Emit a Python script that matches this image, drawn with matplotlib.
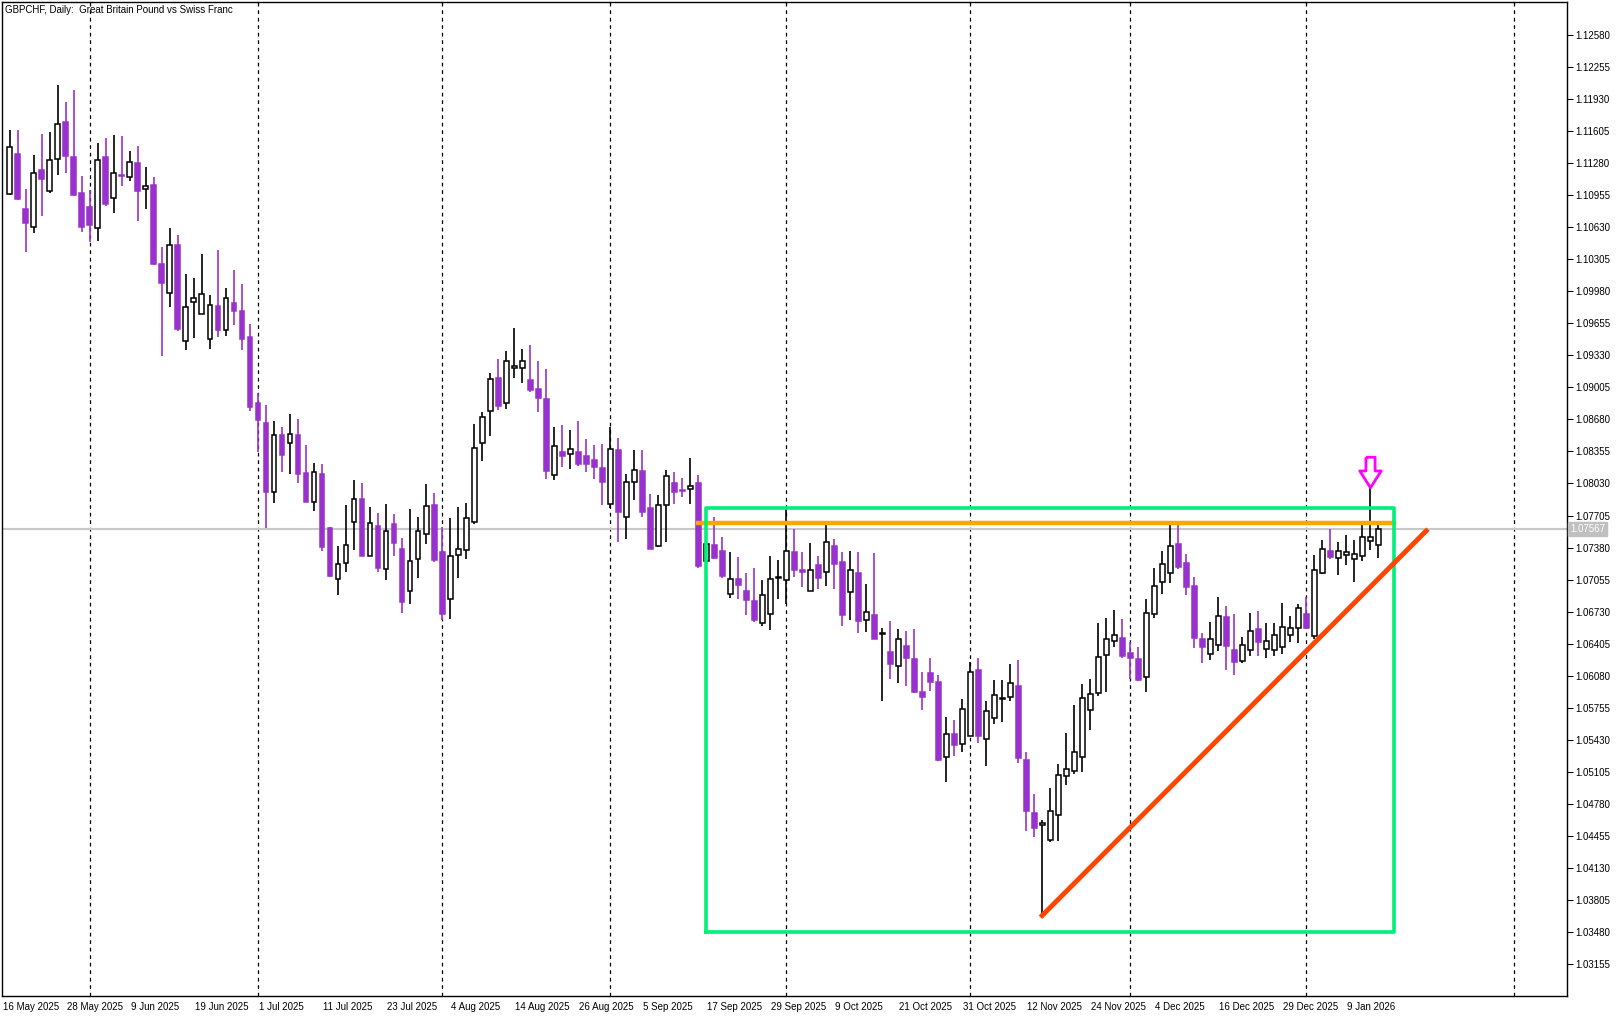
import matplotlib
matplotlib.use("Agg")
import matplotlib.pyplot as plt
from matplotlib.path import Path
import numpy as np

plt.rcParams["font.family"] = ["Liberation Sans", "DejaVu Sans"]

# GBPCHF daily candles
opens = [1.1096, 1.1137, 1.1081, 1.1063, 1.1121, 1.1100, 1.1132, 1.1169, 1.1134, 1.1097,
         1.1083, 1.1062, 1.1134, 1.1092, 1.1116, 1.1114, 1.1128, 1.1102, 1.1106, 1.1026,
         1.0996, 1.1045, 1.0947, 1.0987, 1.0975, 1.0949, 1.0983, 1.0959, 1.0986, 1.0978,
         1.0952, 1.0885, 1.0864, 1.0794, 1.0852, 1.0844, 1.0852, 1.0814, 1.0784, 1.0813,
         1.0758, 1.0706, 1.0722, 1.0764, 1.0787, 1.0730, 1.0760, 1.0716, 1.0762, 1.0737,
         1.0694, 1.0726, 1.0752, 1.0781, 1.0734, 1.0686, 1.0731, 1.0736, 1.0764, 1.0844,
         1.0876, 1.0910, 1.0885, 1.0920, 1.0920, 1.0908, 1.0899, 1.0889, 1.0812, 1.0835,
         1.0833, 1.0835, 1.0831, 1.0827, 1.0819, 1.0782, 1.0837, 1.0769, 1.0805, 1.0816,
         1.0778, 1.0740, 1.0781, 1.0804, 1.0796, 1.0797, 1.0803, 1.0724, 1.0741, 1.0735,
         1.0691, 1.0706, 1.0694, 1.0684, 1.0662, 1.0671, 1.0707, 1.0705, 1.0734, 1.0715,
         1.0694, 1.0720, 1.0713, 1.0740, 1.0723, 1.0693, 1.0712, 1.0665, 1.0670, 1.0650,
         1.0632, 1.0618, 1.0638, 1.0625, 1.0592, 1.0611, 1.0602, 1.0526, 1.0549, 1.0539,
         1.0547, 1.0614, 1.0544, 1.0565, 1.0585, 1.0587, 1.0598, 1.0523, 1.0469, 1.0457,
         1.0442, 1.0467, 1.0506, 1.0512, 1.0526, 1.0573, 1.0591, 1.0629, 1.0643, 1.0646,
         1.0631, 1.0625, 1.0607, 1.0671, 1.0703, 1.0712, 1.0742, 1.0722, 1.0699, 1.0645,
         1.0630, 1.0639, 1.0668, 1.0634, 1.0623, 1.0634, 1.0656, 1.0635, 1.0634, 1.0637,
         1.0649, 1.0657, 1.0671, 1.0648, 1.0712, 1.0735, 1.0727, 1.0731, 1.0726, 1.0729,
         1.0745, 1.0741]
highs = [1.1161, 1.1161, 1.1102, 1.1136, 1.1157, 1.1159, 1.1207, 1.1190, 1.1202, 1.1115,
         1.1101, 1.1148, 1.1153, 1.1156, 1.1155, 1.1140, 1.1145, 1.1124, 1.1114, 1.1043,
         1.1062, 1.1055, 1.1015, 1.1011, 1.1036, 1.0994, 1.1040, 1.1001, 1.1019, 1.1005,
         1.0965, 1.0895, 1.0883, 1.0866, 1.0860, 1.0873, 1.0868, 1.0842, 1.0824, 1.0823,
         1.0759, 1.0740, 1.0781, 1.0807, 1.0804, 1.0779, 1.0773, 1.0782, 1.0772, 1.0748,
         1.0777, 1.0769, 1.0802, 1.0793, 1.0759, 1.0768, 1.0779, 1.0783, 1.0863, 1.0875,
         1.0915, 1.0929, 1.0937, 1.0961, 1.0939, 1.0943, 1.0927, 1.0919, 1.0860, 1.0862,
         1.0857, 1.0866, 1.0848, 1.0842, 1.0843, 1.0860, 1.0849, 1.0813, 1.0837, 1.0837,
         1.0792, 1.0791, 1.0817, 1.0815, 1.0809, 1.0829, 1.0812, 1.0745, 1.0769, 1.0749,
         1.0734, 1.0728, 1.0712, 1.0717, 1.0705, 1.0730, 1.0725, 1.0778, 1.0757, 1.0734,
         1.0743, 1.0730, 1.0761, 1.0747, 1.0734, 1.0735, 1.0734, 1.0701, 1.0733, 1.0657,
         1.0664, 1.0656, 1.0653, 1.0656, 1.0612, 1.0626, 1.0609, 1.0566, 1.0563, 1.0585,
         1.0622, 1.0626, 1.0583, 1.0604, 1.0604, 1.0620, 1.0624, 1.0531, 1.0488, 1.0462,
         1.0494, 1.0519, 1.0550, 1.0578, 1.0600, 1.0605, 1.0662, 1.0667, 1.0675, 1.0666,
         1.0642, 1.0637, 1.0686, 1.0717, 1.0735, 1.0761, 1.0761, 1.0732, 1.0708, 1.0651,
         1.0663, 1.0688, 1.0679, 1.0671, 1.0647, 1.0672, 1.0674, 1.0662, 1.0662, 1.0682,
         1.0669, 1.0681, 1.0688, 1.0731, 1.0746, 1.0757, 1.0744, 1.0751, 1.0746, 1.0761,
         1.0798, 1.0761]
lows = [1.1095, 1.1090, 1.1038, 1.1057, 1.1074, 1.1098, 1.1116, 1.1118, 1.1094, 1.1058,
        1.1048, 1.1049, 1.1084, 1.1077, 1.1105, 1.1110, 1.1069, 1.1081, 1.1025, 1.0932,
        1.0982, 1.0958, 1.0938, 1.0950, 1.0975, 1.0939, 1.0952, 1.0953, 1.0964, 1.0938,
        1.0876, 1.0835, 1.0758, 1.0783, 1.0815, 1.0813, 1.0803, 1.0784, 1.0775, 1.0735,
        1.0708, 1.0690, 1.0713, 1.0736, 1.0729, 1.0730, 1.0713, 1.0705, 1.0730, 1.0672,
        1.0681, 1.0707, 1.0742, 1.0723, 1.0665, 1.0666, 1.0707, 1.0726, 1.0762, 1.0826,
        1.0851, 1.0878, 1.0879, 1.0910, 1.0905, 1.0896, 1.0875, 1.0808, 1.0807, 1.0820,
        1.0818, 1.0821, 1.0815, 1.0808, 1.0781, 1.0778, 1.0744, 1.0747, 1.0786, 1.0769,
        1.0737, 1.0739, 1.0744, 1.0782, 1.0789, 1.0782, 1.0717, 1.0721, 1.0726, 1.0707,
        1.0687, 1.0686, 1.0670, 1.0663, 1.0659, 1.0654, 1.0686, 1.0681, 1.0708, 1.0698,
        1.0694, 1.0696, 1.0699, 1.0696, 1.0659, 1.0665, 1.0651, 1.0652, 1.0645, 1.0583,
        1.0605, 1.0601, 1.0598, 1.0591, 1.0573, 1.0593, 1.0522, 1.0500, 1.0527, 1.0531,
        1.0547, 1.0540, 1.0517, 1.0559, 1.0561, 1.0582, 1.0520, 1.0451, 1.0445, 1.0367,
        1.0440, 1.0441, 1.0497, 1.0508, 1.0511, 1.0553, 1.0588, 1.0592, 1.0637, 1.0626,
        1.0605, 1.0603, 1.0592, 1.0667, 1.0691, 1.0702, 1.0716, 1.0690, 1.0636, 1.0621,
        1.0624, 1.0633, 1.0614, 1.0609, 1.0621, 1.0628, 1.0628, 1.0626, 1.0628, 1.0630,
        1.0642, 1.0641, 1.0655, 1.0645, 1.0711, 1.0726, 1.0710, 1.0720, 1.0703, 1.0724,
        1.0736, 1.0727]
closes = [1.1144, 1.1091, 1.1067, 1.1118, 1.1112, 1.1131, 1.1167, 1.1135, 1.1095, 1.1063,
          1.1065, 1.1131, 1.1086, 1.1118, 1.1115, 1.1129, 1.1100, 1.1105, 1.1026, 1.1006,
          1.1045, 1.0960, 1.0982, 1.0991, 1.0995, 1.0984, 1.0959, 1.0991, 1.0978, 1.0949,
          1.0881, 1.0867, 1.0794, 1.0852, 1.0832, 1.0853, 1.0813, 1.0784, 1.0815, 1.0739,
          1.0709, 1.0721, 1.0741, 1.0787, 1.0730, 1.0763, 1.0717, 1.0755, 1.0743, 1.0683,
          1.0724, 1.0755, 1.0780, 1.0725, 1.0671, 1.0730, 1.0737, 1.0768, 1.0839, 1.0870,
          1.0909, 1.0882, 1.0927, 1.0922, 1.0927, 1.0898, 1.0890, 1.0816, 1.0841, 1.0831,
          1.0838, 1.0823, 1.0823, 1.0820, 1.0805, 1.0838, 1.0774, 1.0805, 1.0817, 1.0774,
          1.0737, 1.0781, 1.0811, 1.0794, 1.0795, 1.0800, 1.0719, 1.0742, 1.0727, 1.0709,
          1.0706, 1.0700, 1.0685, 1.0665, 1.0690, 1.0706, 1.0708, 1.0735, 1.0715, 1.0713,
          1.0715, 1.0707, 1.0744, 1.0721, 1.0670, 1.0715, 1.0664, 1.0673, 1.0645, 1.0651,
          1.0620, 1.0645, 1.0626, 1.0592, 1.0587, 1.0602, 1.0523, 1.0549, 1.0538, 1.0574,
          1.0612, 1.0547, 1.0572, 1.0589, 1.0585, 1.0601, 1.0525, 1.0471, 1.0454, 1.0459,
          1.0471, 1.0507, 1.0514, 1.0531, 1.0586, 1.0590, 1.0627, 1.0645, 1.0649, 1.0628,
          1.0626, 1.0604, 1.0672, 1.0699, 1.0721, 1.0740, 1.0718, 1.0698, 1.0646, 1.0637,
          1.0645, 1.0669, 1.0638, 1.0622, 1.0639, 1.0653, 1.0642, 1.0643, 1.0649, 1.0658,
          1.0657, 1.0677, 1.0657, 1.0715, 1.0737, 1.0728, 1.0735, 1.0734, 1.0732, 1.0749,
          1.0749, 1.07567]

date_labels = ["16 May 2025", "28 May 2025", "9 Jun 2025", "19 Jun 2025", "1 Jul 2025",
               "11 Jul 2025", "23 Jul 2025", "4 Aug 2025", "14 Aug 2025", "26 Aug 2025",
               "5 Sep 2025", "17 Sep 2025", "29 Sep 2025", "9 Oct 2025", "21 Oct 2025",
               "31 Oct 2025", "12 Nov 2025", "24 Nov 2025", "4 Dec 2025", "16 Dec 2025",
               "29 Dec 2025", "9 Jan 2026"]
grid_bars = [10, 31, 54, 75, 97, 120, 140, 162, 188]
price_ticks = [1.12580 - 0.00325 * k for k in range(30)]

resistance = 1.0763
box = (87, 173, 1.0348, 1.0778)           # left bar, right bar, bottom, top
trend = ([129, 177], [1.0365, 1.0755])
last_price = 1.07567
signal_bar, signal_price = 170, 1.0815

BEAR = "#9932CC"

fig = plt.figure(figsize=(16.19, 10.17), dpi=100)
ax = fig.add_axes([0.0012, 0.021, 0.9667, 0.977])

o, h, l, c = map(np.array, (opens, highs, lows, closes))
x = np.arange(len(o))
up = c >= o
bot = np.minimum(o, c)
height = np.maximum(np.abs(c - o), 0.00008)

ax.vlines(x[up], l[up], h[up], color="black", lw=1.2, zorder=3)
ax.vlines(x[~up], l[~up], h[~up], color=BEAR, lw=1.2, zorder=3)
ax.bar(x[up], height[up], 0.62, bot[up], facecolor="white", edgecolor="black", lw=1.1, zorder=4)
ax.bar(x[~up], height[~up], 0.62, bot[~up], facecolor=BEAR, edgecolor=BEAR, lw=1.1, zorder=4)

for g in grid_bars:
    ax.axvline(g, color="black", lw=0.9, ls=(0, (3, 3)), zorder=1)

ax.axhline(last_price + 0.00007, color="#c8c8c8", lw=0.8, zorder=2)
ax.axhline(last_price - 0.00003, color="#c8c8c8", lw=0.8, zorder=2)

ax.plot([86, 173], [resistance, resistance], color="#FFA500", lw=3.2, zorder=5)
ax.plot([box[0], box[1], box[1], box[0], box[0]], [box[2], box[2], box[3], box[3], box[2]],
        color="#00F07A", lw=2.6, zorder=5)
ax.plot(trend[0], trend[1], color="#FF4500", lw=3.5, zorder=5)

arrow = Path([(-0.3, 1), (0.3, 1), (0.3, 0.1), (0.7, 0.1), (0, -1), (-0.7, 0.1), (-0.3, 0.1), (-0.3, 1)])
ax.plot([signal_bar], [signal_price], marker=arrow, ms=22, mfc="white", mec="#FF00FF", mew=2, zorder=6)

ax.set_xlim(-1.0, 194.6)
ax.set_ylim(1.02838, 1.12911)

ax.yaxis.tick_right()
ax.set_yticks(price_ticks)
ax.set_yticklabels([f"{p:.5f}" for p in price_ticks], fontsize=7)
ax.tick_params(axis="y", length=4, width=0.8, pad=2)
ax.set_xticks([])
for i, lab in enumerate(date_labels):
    ax.text(i * 8 - 0.9, -0.006, lab, transform=ax.get_xaxis_transform(), fontsize=7,
            ha="left", va="top")
for s in ax.spines.values():
    s.set_linewidth(1.0)

ax.text(1.002, last_price, f"{last_price:.5f}", transform=ax.get_yaxis_transform(),
        fontsize=7, color="white", va="center", ha="left",
        bbox=dict(boxstyle="square,pad=0.2", fc="#c0c0c0", ec="#c0c0c0"))

ax.text(0.002, 0.997, "GBPCHF, Daily:  Great Britain Pound vs Swiss Franc", transform=ax.transAxes,
        fontsize=7, ha="left", va="top")

fig.savefig("out.png", dpi=100)
